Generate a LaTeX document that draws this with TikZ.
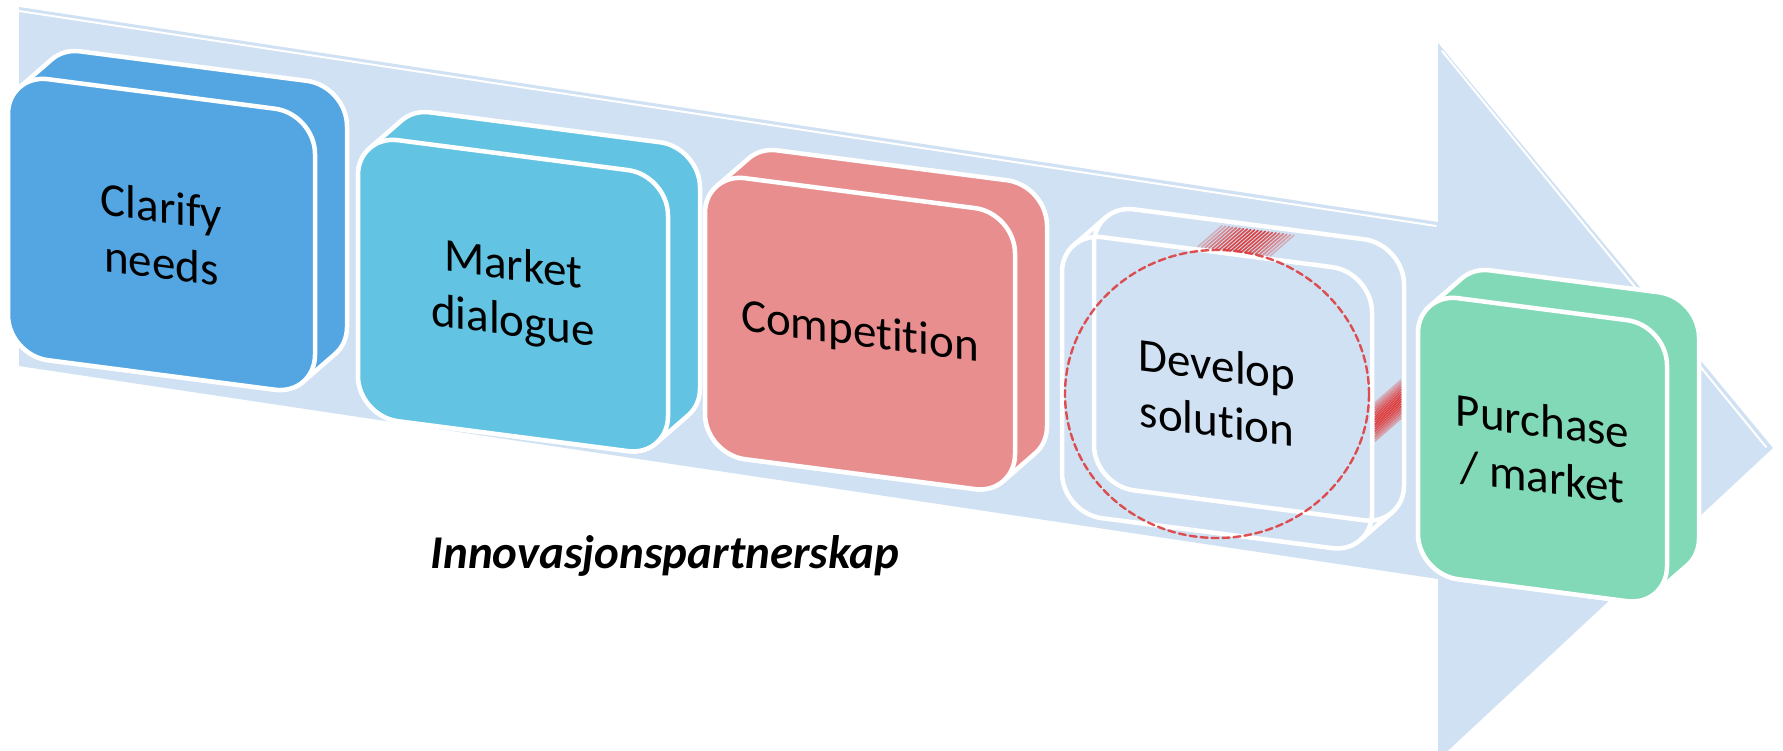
\documentclass[tikz,border=0pt]{standalone}
\usepackage{fontspec}
\setmainfont{Carlito}[Ligatures=NoCommon]
\usepackage{tikz}
\definecolor{arrowblue}{RGB}{207, 225, 243}
\definecolor{clarifyblue}{RGB}{83, 166, 226}
\definecolor{dialoguecyan}{RGB}{98, 196, 226}
\definecolor{competitionred}{RGB}{233, 142, 142}
\definecolor{purchasegreen}{RGB}{130, 217, 183}
\definecolor{ringred}{RGB}{222, 62, 62}
\def\blockh{281}
\def\blockr{40}
\def\blockd{32}
\def\blockslant{-0.13}
% outline of a block seen from the front: front face plus the depth behind it
\newcommand{\blockhull}[1]{%
  ({0.2929*\blockr}, {0.2929*\blockr}) -- ++(\blockd, -\blockd)
  arc[start angle=225, end angle=270, radius=\blockr]
  -- ({#1-\blockr+\blockd}, -\blockd)
  arc[start angle=270, end angle=360, radius=\blockr]
  -- ({#1+\blockd}, {\blockh-\blockr-\blockd})
  arc[start angle=0, end angle=45, radius=\blockr]
  -- ++(-\blockd, \blockd)
  arc[start angle=45, end angle=90, radius=\blockr]
  -- (\blockr, \blockh)
  arc[start angle=90, end angle=180, radius=\blockr]
  -- (0, \blockr)
  arc[start angle=180, end angle=225, radius=\blockr] -- cycle}
% front face only
\newcommand{\blockface}[1]{%
  (0, \blockr) arc[start angle=180, end angle=270, radius=\blockr]
  -- ({#1-\blockr}, 0) arc[start angle=270, end angle=360, radius=\blockr]
  -- (#1, {\blockh-\blockr}) arc[start angle=0, end angle=90, radius=\blockr]
  -- (\blockr, \blockh) arc[start angle=90, end angle=180, radius=\blockr] -- cycle}
\tikzset{
  blockline/.style={draw=white, line width=4.5},
  blocktext/.style={font=\fontsize{47}{56}\selectfont, align=center,
    transform shape, inner sep=0pt},
  ringline/.style={draw=ringred, line width=2.4, dash pattern=on 7pt off 4pt,
    opacity=0.9},
}

\begin{document}
\begin{tikzpicture}[x=1pt, y=-1pt, line join=round, line cap=round]
  \useasboundingbox (0, 0) rectangle (1783, 751);

  % the big arrow behind everything
  \path[fill=arrowblue] (19, 7) -- (1438, 222) -- (1438, 43) -- (1773, 448)
    -- (1438, 760) -- (1438, 579) -- (19, 366) -- cycle;
  \draw[white, line width=2] (19, 11) -- (1436, 226);
  \draw[white, line width=2] (1442, 51) -- (1766, 447);

  % step 1
  \begin{scope}[shift={(8, 74)}, yslant=\blockslant]
    \path[blockline, fill=clarifyblue] \blockhull{307};
    \path[blockline, fill=clarifyblue] \blockface{307};
    \node[blocktext] (clarify) at (153.5, 140.5) {Clarify\\needs};
  \end{scope}

  % step 2
  \begin{scope}[shift={(358, 135)}, yslant=\blockslant]
    \path[blockline, fill=dialoguecyan] \blockhull{310};
    \path[blockline, fill=dialoguecyan] \blockface{310};
    \node[blocktext] (dialogue) at (155, 140.5) {Market\\dialogue};
  \end{scope}

  % step 3
  \begin{scope}[shift={(705, 173)}, yslant=\blockslant]
    \path[blockline, fill=competitionred] \blockhull{310};
    \path[blockline, fill=competitionred] \blockface{310};
    \node[blocktext] (competition) at (155, 140.5) {Competition};
  \end{scope}

  % step 4, only the wire frame
  \begin{scope}[shift={(1062, 232)}, yslant=\blockslant]
    \foreach \i [evaluate=\i as \op using {0.3+0.7*sin(\i*9)}] in {0,...,20}
      \draw[ringred, line width=1.6, opacity=\op] ({136+3.6*\i}, -3) -- ++(24, -24);
    \foreach \i [evaluate=\i as \op using {0.3+0.7*sin(\i*11)}] in {0,...,16}
      \draw[ringred, line width=1.6, opacity=\op] (313, {130+2.4*\i}) -- ++(26, -26);
    \draw[blockline] \blockface{310};
    \draw[blockline, shift={(\blockd, -\blockd)}] \blockface{310};
    \draw[blockline] ({0.2929*\blockr}, {0.2929*\blockr}) -- ++(\blockd, -\blockd);
    \draw[blockline] ({310-0.2929*\blockr}, {\blockh-0.2929*\blockr})
      -- ++(\blockd, -\blockd);
    \node[blocktext] (develop) at (155, 140.5) {Develop\\solution};
  \end{scope}
  \draw[ringline] (1217, 394) ellipse [x radius=152, y radius=144];

  % step 5
  \begin{scope}[shift={(1418, 293)}, yslant=\blockslant]
    \path[blockline, fill=purchasegreen] \blockhull{249};
    \path[blockline, fill=purchasegreen] \blockface{249};
    \node[blocktext] (purchase) at (124.5, 140.5) {Purchase\\/ market};
  \end{scope}

  \node[font=\fontsize{47}{56}\selectfont\bfseries\itshape, anchor=base]
    (partnership) at (665, 568) {Innovasjonspartnerskap};
\end{tikzpicture}
\end{document}
